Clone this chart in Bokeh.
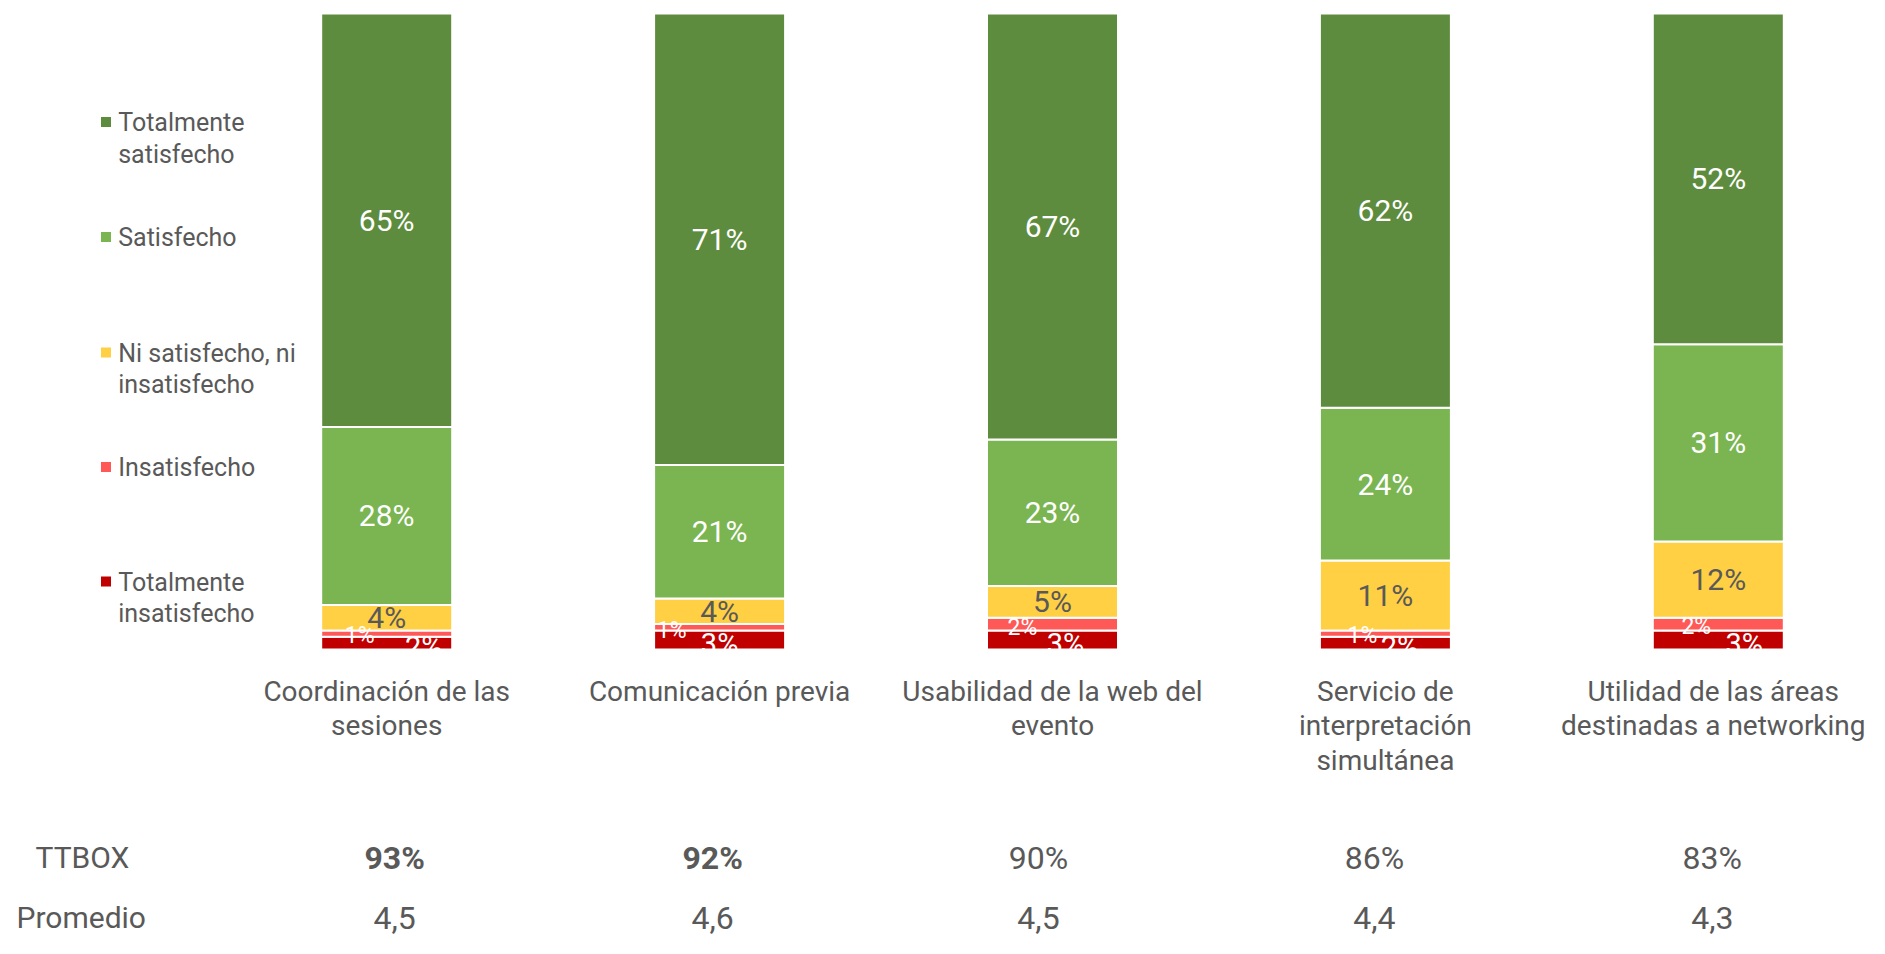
import numpy as np
from bokeh.plotting import figure
from bokeh.models import ColumnDataSource, Range1d
from bokeh.core.properties import value
from bokeh.embed import file_html
from bokeh.resources import INLINE

# ---------------- data ----------------
categories = [
    "Coordinación de las\nsesiones",
    "Comunicación previa",
    "Usabilidad de la web del\nevento",
    "Servicio de\ninterpretación\nsimultánea",
    "Utilidad de las áreas\ndestinadas a networking",
]
totalmente_insatisfecho = [2, 3, 3, 2, 3]
insatisfecho = [1, 1, 2, 1, 2]
ni_ni = [4, 4, 5, 11, 12]
satisfecho = [28, 21, 23, 24, 31]
totalmente_satisfecho = [65, 71, 67, 62, 52]
ttbox = [93, 92, 90, 86, 83]
promedio = [4.5, 4.6, 4.5, 4.4, 4.3]

legend_labels = [
    "Totalmente\nsatisfecho",
    "Satisfecho",
    "Ni satisfecho, ni\ninsatisfecho",
    "Insatisfecho",
    "Totalmente\ninsatisfecho",
]

# ---------------- styles / layout ----------------
COLORS = ["#C00000", "#FF5957", "#FFCF44", "#7AB552", "#5E8C3E"]
LABEL_COLORS = ["white", "white", "#595959", "white", "white"]
LABEL_SIZES = ["29px", "23px", "30px", "30px", "30px"]
GRAY = "#595959"
FONT = value("Roboto")

W, H = 1869, 938
PX_PER_UNIT = 6.36          # pixels per percentage point
BAR_TOP_PX = 13             # canvas y of 100%
CAT_PX = 332.9              # pixels between bar centres
FIRST_BAR_PX = 386.2        # canvas x of first bar centre
BAR_WIDTH = 0.3935

x_start = -FIRST_BAR_PX / CAT_PX
x_end = x_start + W / CAT_PX
zero_px = BAR_TOP_PX + 100 * PX_PER_UNIT
y_end = 100 + BAR_TOP_PX / PX_PER_UNIT
y_start = -(H - zero_px) / PX_PER_UNIT


def px2x(px):
    return x_start + px / CAT_PX


def px2y(py):
    return (zero_px - py) / PX_PER_UNIT


p = figure(width=W, height=H, output_backend="svg", toolbar_location=None,
           x_range=Range1d(x_start, x_end), y_range=Range1d(y_start, y_end),
           min_border=0, outline_line_color=None)
p.axis.visible = False
p.grid.visible = False
p.background_fill_color = "white"
p.border_fill_color = "white"

xs = np.arange(len(categories), dtype=float)
series = [totalmente_insatisfecho, insatisfecho, ni_ni, satisfecho, totalmente_satisfecho]

bottom = np.zeros(len(categories))
label_sets = []
for vals, col in zip(series, COLORS):
    v = np.array(vals, dtype=float)
    top = bottom + v
    p.vbar(x=xs, bottom=bottom, top=top, width=BAR_WIDTH, fill_color=col,
           line_color="white", line_width=2)
    label_sets.append((bottom + v / 2, v))
    bottom = top

# label offsets for the two thin red segments (pixels)
small_dx = {
    0: [37, 0, 13, 14, 26],        # Totalmente insatisfecho
    1: [-27, -48, -30, -23, -22],  # Insatisfecho
}
small_dy = {0: [4, 4, 4, 4, 4], 1: [2, 3, 3, 2, 2]}

for i, (mid, v) in enumerate(label_sets):
    src = ColumnDataSource(dict(
        x=xs, y=mid, t=[f"{int(a)}%" for a in v],
        dx=small_dx.get(i, [0] * len(xs)), dy=small_dy.get(i, [0] * len(xs)),
    ))
    p.text(x="x", y="y", text="t", source=src, x_offset="dx", y_offset="dy",
           text_font=FONT, text_font_size=LABEL_SIZES[i], text_color=LABEL_COLORS[i],
           text_align="center", text_baseline="middle")

# white mask below the bars (labels are cut off at the plot floor)
p.quad(left=[x_start], right=[x_end], top=[0], bottom=[-3.4],
       fill_color="white", line_color=None)

# category labels
cat_dx = [0, 0, 0, 0, -5]
p.text(x=xs, y=[0] * len(xs), text=categories, x_offset=cat_dx, y_offset=25,
       text_font=FONT, text_font_size="28px", text_color=GRAY,
       text_align="center", text_baseline="top", text_line_height=1.05)

# TTBOX / Promedio rows
row_dx = [8, -7, -14, -11, -6]
TT_Y, PR_Y = 857, 917
p.text(x=xs, y=[px2y(TT_Y)] * len(xs), text=[f"{v}%" for v in ttbox],
       x_offset=row_dx, text_font=FONT, text_font_size="32px",
       text_color=GRAY, text_align="center", text_baseline="middle",
       text_font_style=["bold", "bold", "normal", "normal", "normal"])
p.text(x=xs, y=[px2y(PR_Y)] * len(xs),
       text=[f"{v:.1f}".replace(".", ",") for v in promedio],
       x_offset=row_dx, text_font=FONT, text_font_size="32px",
       text_color=GRAY, text_align="center", text_baseline="middle")
p.text(x=[px2x(35)], y=[px2y(TT_Y)], text=["TTBOX"], text_font=FONT,
       text_font_size="30px", text_color=GRAY, text_align="left",
       text_baseline="middle")
p.text(x=[px2x(16)], y=[px2y(PR_Y)], text=["Promedio"], text_font=FONT,
       text_font_size="30px", text_color=GRAY, text_align="left",
       text_baseline="middle")

# legend (manual)
leg_colors = COLORS[::-1]
leg_y_px = [121.5, 236.5, 352, 466.5, 581]
p.scatter(x=[px2x(105.5)] * 5, y=[px2y(y) for y in leg_y_px], marker="square",
          size=10, fill_color=leg_colors, line_color=None)
p.text(x=[px2x(117.7)] * 5, y=[px2y(y) for y in leg_y_px], text=legend_labels,
       y_offset=-14, text_font=FONT, text_font_size="25px", text_color=GRAY,
       text_align="left", text_baseline="top", text_line_height=1.1)

open("out.html", "w").write(file_html(p, INLINE))
